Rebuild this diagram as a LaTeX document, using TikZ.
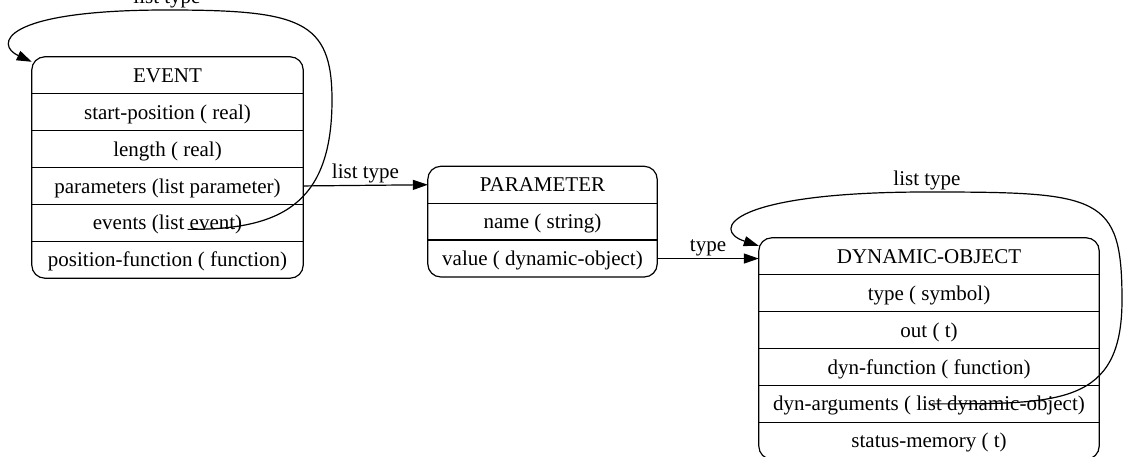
\documentclass[tikz,border=0pt]{standalone}
\usepackage{fontspec}
\setmainfont{Liberation Serif}
\usetikzlibrary{positioning,arrows.meta}

\tikzset{
    fieldrow/.style={inner sep=0pt, minimum height=36.5pt, text height=19.5pt, text depth=5.25pt,
        font=\fontsize{21}{25}\selectfont},
    frame/.style={line width=1.2pt, rounded corners=13pt},
    link/.style={line width=1.2pt, -{Triangle[length=15pt,width=10pt]}},
    linklabel/.style={above, inner sep=1.5pt, font=\fontsize{21}{25}\selectfont},
}

\begin{document}
\begin{tikzpicture}[x=1pt, y=-1pt]

                    \useasboundingbox (0,0) rectangle (1125,457);

                    % EVENT
                    \node[fieldrow, minimum width=271pt] (ev0) at (167.5,75.25) {EVENT};
                    \foreach \txt [count=\i, remember=\i as \k (initially 0)] in {start-position ( real), length ( real), parameters (list parameter), events (list event), position-function ( function)}
                    \node[fieldrow, minimum width=271pt, below=0pt of ev\k] (ev\i) {\txt};
                    \draw[frame] (ev0.north west) rectangle (ev5.south east);
                    \foreach \i in {0,...,4}
                    \draw[line width=1.2pt] (ev\i.south west) -- (ev\i.south east);

                    % PARAMETER
                    \node[fieldrow, minimum width=229pt] (par0) at (542.5,184.75) {PARAMETER};
                    \foreach \txt [count=\i, remember=\i as \k (initially 0)] in {name ( string), value ( dynamic-object)}
                    \node[fieldrow, minimum width=229pt, below=0pt of par\k] (par\i) {\txt};
                    \draw[frame] (par0.north west) rectangle (par2.south east);
                    \foreach \i in {0,1}
                    \draw[line width=1.2pt] (par\i.south west) -- (par\i.south east);

                    % DYNAMIC-OBJECT
                    \node[fieldrow, minimum width=340pt] (dyn0) at (929,256.25) {DYNAMIC-OBJECT};
                    \foreach \txt [count=\i, remember=\i as \k (initially 0)] in {type ( symbol), out ( t), dyn-function ( function), dyn-arguments ( list dynamic-object), status-memory ( t)}
                    \node[fieldrow, minimum width=340pt, below=0pt of dyn\k] (dyn\i) {\txt};
                    \draw[frame] (dyn0.north west) rectangle (dyn5.south east);
                    \foreach \i in {0,...,4}
                    \draw[line width=1.2pt] (dyn\i.south west) -- (dyn\i.south east);

                    % links
                    \draw[link] (ev3.east) -- node[linklabel] {list type} (par0.west);
                    \draw[link] (par2.east) -- node[linklabel] {type} (par2.east -| dyn0.west);

                    % self loops
                    \draw[link] ([xshift=20pt,yshift=-6.5pt]ev4.center) .. controls (280,230) and (332,205) .. (332,100)
                        .. controls (332,20) and (300,10) .. (167,10) node[linklabel] {list type}
                        .. controls (0,10) and (-5,45) .. ([yshift=-5pt]ev0.north west);
                    \draw[link] ([xshift=3pt]dyn4.center) .. controls (1060,404) and (1122,405) .. (1122,300)
                        .. controls (1122,195) and (1100,192) .. (927,192) node[linklabel] {list type}
                        .. controls (730,192) and (710,230) .. ([yshift=-8pt]dyn0.north west);
                \end{tikzpicture}
\end{document}
